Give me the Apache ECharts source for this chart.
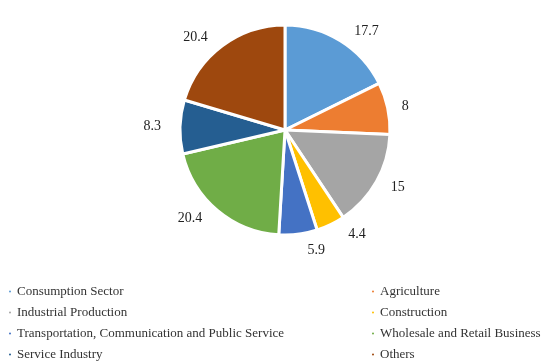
<!DOCTYPE html>
<html><head><meta charset="utf-8">
<script src="https://cdn.jsdelivr.net/npm/echarts@6/dist/echarts.min.js"></script>
<style>html,body{margin:0;padding:0;background:#fff}#c{width:559px;height:363px}</style>
</head><body><div id="c"></div>
<script>
const categories = ["Consumption Sector","Agriculture","Industrial Production","Construction","Transportation, Communication and Public Service","Wholesale and Retail Business","Service Industry","Others"];
const values = [17.7, 8, 15, 4.4, 5.9, 20.4, 8.3, 20.4];
const colors = ["#5B9BD5","#ED7D31","#A5A5A5","#FFC000","#4472C4","#70AD47","#255E91","#9E480E"];
const leftLegend = [categories[0],categories[2],categories[4],categories[6]];
const rightLegend = [categories[1],categories[3],categories[5],categories[7]];
const chart = echarts.init(document.getElementById('c'));
const legendBase = {orient:'vertical', icon:'circle', itemWidth:4, itemHeight:4, itemGap:8, padding:0,
  textStyle:{fontFamily:'Liberation Serif', fontSize:13, lineHeight:13, color:'#333'}, selectedMode:false};
chart.setOption({
  color: colors,
  legend: [
    Object.assign({}, legendBase, {data: leftLegend, left: 7, top: 285}),
    Object.assign({}, legendBase, {data: rightLegend, left: 370, top: 285})
  ],
  series: [{
    type: 'pie',
    center: [285, 130],
    radius: [0, 105],
    startAngle: 90,
    clockwise: true,
    animation: false,
    itemStyle: {borderColor: '#fff', borderWidth: 3},
    label: {show: true, position: 'outside', formatter: '{c}', fontFamily: 'Liberation Serif', fontSize: 14, color: '#222'},
    labelLine: {show: false, length: 11, length2: 3},
    data: categories.map((n, i) => ({name: n, value: values[i]}))
  }]
});
</script></body></html>
